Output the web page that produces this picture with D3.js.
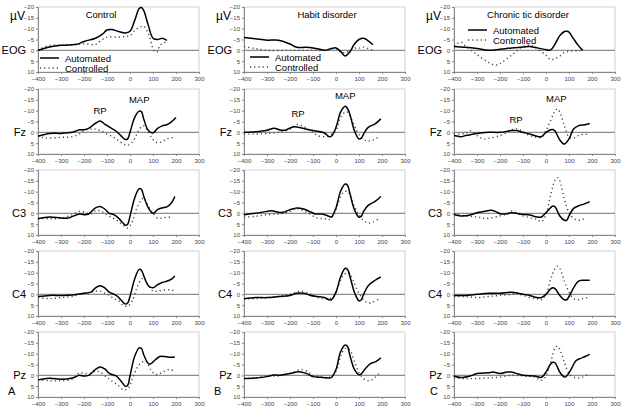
<!DOCTYPE html>
<html>
<head>
<meta charset="utf-8">
<script src="https://cdn.jsdelivr.net/npm/d3@7"></script>
<style>
  body { margin: 0; background: #fff; }
  svg { display: block; font-family: "Liberation Sans", Arial, sans-serif; }
</style>
</head>
<body>
<div id="chart"></div>
<script>
const w = 624;
const h = 412;

// column titles, row (channel) names, panel letters
const groups = ["Control", "Habit disorder", "Chronic tic disorder"];
const channels = ["EOG", "Fz", "C3", "C4", "Pz"];
const panelLetters = ["A", "B", "C"];
const seriesNames = ["Automated", "Controlled"];
const xTicks = [-400, -300, -200, -100, 0, 100, 200, 300];
const yTicks = [-20, -15, -10, -5, 0, 5, 10];

// [ms, µV] (negative is up)
const eogControlAuto = [[-400,0],[-350,-1.5],[-300,-2.3],[-250,-2.6],[-230,-2.8],[-200,-4.1],[-150,-5.6],[-120,-7.5],[-100,-9.4],[-80,-9.6],[-50,-8.7],[-20,-8],[0,-8.8],[20,-13.7],[40,-19.3],[50,-19.8],[60,-18.3],[80,-11.4],[100,-5.6],[120,-5],[140,-5.6],[160,-4.6]];
const eogControlCtrl = [[-400,0],[-350,-2.3],[-300,-2.3],[-250,-2.6],[-200,-3],[-150,-2.7],[-130,-4.1],[-100,-6.1],[-50,-6.1],[-20,-6.4],[0,-6.8],[20,-9.1],[40,-10.6],[60,-11.1],[80,-7.6],[100,-0.8],[110,0.8],[120,0.5],[130,-2.3],[160,-4]];
const eogHabitAuto = [[-400,-5.9],[-350,-5.3],[-300,-4.7],[-250,-4.7],[-200,-2.9],[-170,-1.4],[-130,-1.4],[-100,-1.1],[-70,-0.5],[-50,0],[-20,-0.8],[0,-1.1],[20,0.5],[40,2.6],[60,0.8],[80,-2.9],[100,-5],[120,-5.6],[140,-4.4],[160,-2.6]];
const eogHabitCtrl = [[-400,-1.7],[-350,-0.8],[-300,0],[-200,0],[-100,0],[-50,0],[0,-0.8],[20,0.8],[40,1],[60,0],[80,-1],[100,-1],[120,-1.5],[140,-0.8],[160,0]];
const eogTicAuto = [[-400,-1.8],[-350,-1.4],[-300,-0.8],[-250,0],[-200,-0.5],[-150,-1.1],[-100,-1.5],[-70,-1.8],[-50,-1.4],[0,-0.3],[20,-0.2],[40,-3],[60,-6.8],[80,-8.7],[90,-8.8],[100,-8.4],[120,-5.3],[140,-2.3],[160,0]];
const eogTicCtrl = [[-400,-2],[-370,-3.8],[-350,-2],[-300,2],[-250,5.6],[-220,6.8],[-200,6.1],[-150,2.3],[-100,-1.8],[-70,-2.3],[-50,-1.5],[0,2.3],[20,4.3],[40,3.8],[60,2.6],[80,1],[100,0.5],[120,0.3],[160,0]];

const fzControlAuto = [[-400,1.8],[-350,0.5],[-300,0.5],[-250,0],[-220,-1.2],[-200,-1.2],[-180,-1.8],[-150,-4.2],[-130,-5.2],[-110,-3.8],[-80,-1.8],[-60,-0.5],[-40,1.5],[-20,3.3],[-10,3],[0,0],[20,-6.8],[40,-9.8],[50,-9.5],[60,-6],[80,-0.8],[100,0.3],[120,-1.8],[140,-3],[160,-3.5],[180,-4.8],[200,-6.8]];
const fzControlCtrl = [[-400,1.5],[-370,2.6],[-300,2.3],[-250,2],[-220,0.8],[-200,-0.8],[-170,-1.5],[-150,-1.5],[-120,-0.3],[-100,0.8],[-70,2.3],[-50,3.8],[-30,5.3],[-10,6],[10,4.5],[30,0.8],[50,-2.7],[60,-3],[80,0],[100,3.3],[120,4.8],[140,4.2],[160,3],[200,2.3]];
const fzHabitAuto = [[-400,0],[-350,-0.3],[-300,-1],[-270,-1.9],[-240,-1],[-220,-1],[-200,-2],[-180,-2.6],[-150,-2],[-120,-1.2],[-80,-0.5],[-50,0.3],[-30,2],[-20,1.8],[0,-2.3],[20,-9.3],[40,-12],[50,-11],[60,-8.5],[80,-0.8],[100,3.1],[110,2.7],[120,0.8],[140,-2.3],[170,-3.9],[195,-6.2]];
const fzHabitCtrl = [[-400,0.8],[-350,0.8],[-300,0.5],[-250,0],[-200,-1.5],[-170,-3.6],[-150,-3.1],[-120,-1.5],[-100,0],[-80,1.5],[-50,2],[-30,1.5],[0,-0.8],[20,-7],[40,-9.3],[50,-9.3],[70,-5.4],[90,-0.8],[110,2.3],[130,3.9],[150,3.9],[170,3.1],[190,1.5]];
const fzTicAuto = [[-400,1.5],[-370,2],[-350,1.5],[-300,0.5],[-250,0],[-200,0],[-150,-0.8],[-130,-0.8],[-100,0],[-70,0.8],[-40,1.8],[-20,2],[0,0],[20,-1.2],[30,-1.3],[40,-0.5],[60,3.5],[80,5.4],[100,3],[120,-1.5],[140,-3],[170,-3.5],[190,-4.1]];
const fzTicCtrl = [[-400,0.8],[-350,0.5],[-330,-0.8],[-300,1.5],[-270,3.1],[-250,2.8],[-200,1.5],[-170,0],[-150,-1.2],[-120,-1.5],[-100,0],[-70,1.5],[-40,2.3],[-20,2.3],[0,-0.8],[20,-5.4],[40,-10],[50,-10.8],[60,-9.3],[80,-3],[100,2.3],[120,2.6],[140,1.5],[170,0.8],[180,1]];

const c3ControlAuto = [[-400,2.5],[-350,1.7],[-300,2.2],[-270,2.2],[-250,1.4],[-220,0.3],[-200,0.6],[-180,0.3],[-150,-2.5],[-130,-3.2],[-110,-2],[-90,0],[-70,0.6],[-50,2.2],[-30,4.5],[-20,5.5],[-10,5],[0,1.4],[20,-7],[40,-11.4],[50,-11],[60,-7.8],[80,-2.5],[100,0],[120,-1.7],[140,-2.5],[160,-3],[180,-4.8],[195,-7.8]];
const c3ControlCtrl = [[-400,2.2],[-350,2.5],[-300,2.2],[-250,0.6],[-220,-0.9],[-200,-0.6],[-170,0.3],[-150,-1.2],[-130,-1.2],[-110,0],[-90,1.4],[-70,2.5],[-50,3.7],[-30,5.5],[-10,6.8],[10,3.7],[30,-2.5],[50,-6.3],[60,-7],[80,-3.2],[100,0],[120,2.2],[140,2.2],[160,1.8],[180,1.8]];
const c3HabitAuto = [[-400,0.6],[-350,0],[-300,-0.9],[-280,-1.2],[-250,-0.5],[-230,-0.5],[-200,-1.7],[-170,-2.5],[-140,-2],[-110,-0.6],[-90,0.3],[-60,0.3],[-30,1.4],[-20,1.7],[0,-2.5],[20,-10.2],[40,-13.5],[50,-13],[60,-9.4],[80,-1.7],[100,1.8],[110,1.4],[120,-0.9],[140,-3.7],[170,-5.5],[195,-7.8]];
const c3HabitCtrl = [[-400,1.8],[-350,1.4],[-300,0.6],[-250,0.3],[-200,-0.9],[-170,-2.2],[-140,-1.2],[-110,0.6],[-80,2.2],[-50,2.5],[-30,2.9],[-10,0.6],[10,-4.8],[30,-9.4],[50,-10.2],[60,-8.6],[80,-3.2],[100,0.6],[120,3.4],[140,4.5],[160,4],[190,2.2]];
const c3TicAuto = [[-400,0.5],[-370,1.2],[-330,0.8],[-300,-0.3],[-270,-0.8],[-240,-1.4],[-220,-0.9],[-200,0.2],[-170,0.2],[-150,-0.3],[-120,0.2],[-100,0.5],[-70,0.8],[-40,1.7],[-20,1.7],[0,-0.3],[20,-2.6],[30,-3.4],[40,-2.9],[60,1.2],[80,3.2],[90,3.2],[100,1.2],[120,-2.3],[140,-3.4],[170,-4.5],[190,-5.4]];
const c3TicCtrl = [[-400,0.2],[-350,1.2],[-300,1.7],[-270,2.3],[-250,2.3],[-200,1.2],[-170,0.2],[-150,-1.1],[-130,-0.3],[-100,1.2],[-70,2],[-40,2.8],[-20,3.8],[0,0.5],[20,-8.5],[40,-15.5],[50,-16.5],[60,-15],[80,-6.5],[100,-0.3],[120,2.3],[140,3.2],[160,2.8],[170,2.2]];

const c4ControlAuto = [[-400,1],[-350,0.5],[-300,0.5],[-250,0.3],[-200,-0.5],[-170,-1],[-150,-3],[-130,-4],[-110,-3],[-90,-1],[-60,0.5],[-40,2.5],[-20,4.5],[-10,4],[0,1],[20,-7],[40,-11.5],[50,-11],[60,-8.5],[80,-4],[100,-3],[120,-4.5],[140,-5.5],[160,-6],[180,-7],[195,-8.5]];
const c4ControlCtrl = [[-400,1.5],[-350,2],[-300,1.5],[-250,1],[-220,0],[-200,-0.5],[-170,-1],[-150,-1.5],[-130,-1.5],[-110,-0.5],[-90,0.5],[-70,2],[-50,3],[-30,5],[-10,5.5],[10,3],[30,-3],[50,-7],[60,-7.5],[80,-4],[100,-1.5],[120,-1.5],[150,-2],[180,-2],[195,-1.5]];
const c4HabitAuto = [[-400,2],[-350,1.5],[-300,1.5],[-250,1],[-200,0.5],[-170,-0.5],[-140,-0.5],[-110,0.5],[-80,1],[-50,1.5],[-30,2.5],[-20,2.5],[0,-1],[20,-8],[40,-12],[50,-11.5],[60,-8.5],[80,-1],[100,3],[110,2.5],[120,0],[140,-4],[170,-6.5],[195,-8]];
const c4HabitCtrl = [[-400,2],[-350,2],[-300,1.5],[-250,1],[-200,0],[-170,-1],[-150,-1.5],[-120,-0.5],[-100,0.5],[-80,1.5],[-50,2],[-30,2],[-10,1],[10,-4],[30,-8.5],[50,-10],[60,-9.5],[80,-5],[100,-0.5],[120,2.5],[140,4],[160,3.5],[190,2]];
const c4TicAuto = [[-400,0.5],[-350,0.5],[-300,0],[-250,-0.5],[-200,-0.5],[-150,-1],[-120,-0.5],[-100,0],[-70,0.5],[-40,1.5],[-20,1.5],[0,0],[20,-2.5],[30,-3],[40,-2.5],[60,0.5],[80,2.5],[90,2.5],[100,1],[120,-3],[140,-6],[160,-6.5],[190,-6.5]];
const c4TicCtrl = [[-400,1],[-350,1],[-300,1.5],[-250,1],[-200,0.5],[-150,0],[-130,-0.5],[-100,0.5],[-70,1.5],[-40,2],[-20,2.5],[0,0],[20,-7],[40,-12],[50,-13],[60,-12],[80,-6],[100,-1],[120,2],[140,2.5],[160,2],[180,1.5]];

const pzControlAuto = [[-400,2.1],[-350,1.4],[-300,1.8],[-250,1.2],[-220,0],[-200,0.3],[-180,0],[-150,-2.7],[-130,-3.9],[-110,-3],[-90,-0.9],[-60,0.3],[-40,2.5],[-20,5.1],[-10,4.6],[0,0.3],[20,-8.7],[40,-12.7],[50,-12.4],[60,-9.4],[80,-5.4],[90,-5.3],[110,-7.2],[130,-8.7],[150,-8.7],[170,-8.4],[195,-8.5]];
const pzControlCtrl = [[-400,2.1],[-350,2.5],[-300,2.5],[-250,1.8],[-220,-1.2],[-200,-0.9],[-170,-0.9],[-150,-1.9],[-130,-1.5],[-100,1],[-80,2.5],[-50,4.8],[-30,6.6],[-10,6.3],[10,1.8],[30,-3.4],[50,-6],[70,-6.4],[90,-2.7],[110,-0.4],[130,-0.9],[150,-1.9],[170,-2.7],[195,-1.9]];
const pzHabitAuto = [[-400,1.5],[-350,1.2],[-300,0.6],[-270,-0.2],[-250,0],[-200,-0.8],[-160,-1.6],[-130,-0.9],[-100,0.6],[-70,0.9],[-30,1.2],[-20,1],[0,-2.7],[20,-10.9],[40,-14],[50,-13.3],[60,-9.4],[80,-2.7],[100,-0.3],[110,-0.7],[130,-3.4],[150,-5.4],[175,-6.4],[195,-8.1]];
const pzHabitCtrl = [[-400,1.4],[-350,1.2],[-300,0.3],[-250,0.3],[-200,-0.9],[-170,-2.2],[-150,-2.7],[-120,-1.5],[-100,0],[-70,0.7],[-30,1],[0,-1.9],[20,-8.7],[40,-12.4],[60,-11.7],[80,-6.4],[100,-1.2],[120,1.5],[140,2.5],[160,1.8],[190,-1.2]];
const pzTicAuto = [[-400,0.3],[-370,1],[-330,0.3],[-300,-0.8],[-250,-1.2],[-230,-1.5],[-200,-0.8],[-170,-1.5],[-150,-1.5],[-120,-0.6],[-100,0],[-50,0.3],[-20,0.9],[0,-1.5],[20,-5.2],[30,-6],[40,-5.7],[60,-1.5],[80,0.8],[90,0.3],[110,-3],[130,-6.7],[150,-7.8],[170,-8.7],[190,-9.7]];
const pzTicCtrl = [[-400,1.2],[-350,1.5],[-300,1.5],[-250,1.2],[-200,0.8],[-150,0],[-100,0.3],[-50,0.8],[-20,2.3],[0,0.3],[20,-6],[40,-12.7],[50,-13.5],[60,-12],[80,-6],[100,-0.8],[120,0.8],[140,1.2],[160,0.8],[180,-0.3]];

// rows x columns of [automated, controlled]
const panels = [
  [[eogControlAuto, eogControlCtrl], [eogHabitAuto, eogHabitCtrl], [eogTicAuto, eogTicCtrl]],
  [[fzControlAuto, fzControlCtrl], [fzHabitAuto, fzHabitCtrl], [fzTicAuto, fzTicCtrl]],
  [[c3ControlAuto, c3ControlCtrl], [c3HabitAuto, c3HabitCtrl], [c3TicAuto, c3TicCtrl]],
  [[c4ControlAuto, c4ControlCtrl], [c4HabitAuto, c4HabitCtrl], [c4TicAuto, c4TicCtrl]],
  [[pzControlAuto, pzControlCtrl], [pzHabitAuto, pzHabitCtrl], [pzTicAuto, pzTicCtrl]]
];

// RP / MAP labels on the Fz row: [column, text, ms, µV]
const fzNotes = [
  [0, "RP", -130, -8.5], [0, "MAP", 40, -13.5],
  [1, "RP", -165, -7], [1, "MAP", 40, -15.5],
  [2, "RP", -130, -4.5], [2, "MAP", 45, -14]
];

// layout
const colLeft = [38, 244, 454];
const rowTop = [7, 89, 170, 251, 332];
const plotW = 161;
const plotH = 65;
const titleOffset = [63, 83, 74];
const letterX = [8, 214, 430];

const svg = d3.select("#chart").append("svg")
  .attr("width", w)
  .attr("height", h);

channels.forEach((ch, r) => {
  groups.forEach((grp, c) => {
    const x0 = colLeft[c], y0 = rowTop[r];
    const x = d3.scaleLinear().domain([-400, 300]).range([x0, x0 + plotW]);
    const y = d3.scaleLinear().domain([-20, 10]).range([y0, y0 + plotH]);
    const g = svg.append("g");

    // plot frame
    g.append("rect")
      .attr("x", x0).attr("y", y0)
      .attr("width", plotW).attr("height", plotH)
      .attr("fill", "none").attr("stroke", "#cfcfcf");

    // axes
    const ya = g.append("g")
      .attr("transform", `translate(${x0},0)`)
      .call(d3.axisLeft(y).tickValues(yTicks).tickSize(2).tickPadding(2));
    const xa = g.append("g")
      .attr("transform", `translate(0,${y0 + plotH})`)
      .call(d3.axisBottom(x).tickValues(xTicks).tickSize(2).tickPadding(3));
    [ya, xa].forEach(a => {
      a.select(".domain").attr("stroke", "#888");
      a.selectAll(".tick line").attr("stroke", "#888");
      a.selectAll(".tick text")
        .attr("fill", "#444")
        .style("font-size", "6px")
        .style("font-family", "'Liberation Sans', Arial, sans-serif");
    });

    // zero line
    g.append("line")
      .attr("x1", x0).attr("x2", x0 + plotW)
      .attr("y1", y(0)).attr("y2", y(0))
      .attr("stroke", "#8c8c8c").attr("stroke-width", 1.2);

    const line = d3.line()
      .x(d => x(d[0]))
      .y(d => y(d[1]))
      .curve(d3.curveCatmullRom.alpha(0.5));

    const [auto, ctrl] = panels[r][c];
    g.append("path").datum(ctrl)
      .attr("d", line)
      .attr("fill", "none")
      .attr("stroke", "#444")
      .attr("stroke-width", 1.4)
      .attr("stroke-dasharray", "1.2,3");
    g.append("path").datum(auto)
      .attr("d", line)
      .attr("fill", "none")
      .attr("stroke", "#000")
      .attr("stroke-width", 1.5);

    // channel name
    g.append("text")
      .attr("x", x0 - 12).attr("y", y(0) + 4)
      .attr("text-anchor", "end")
      .style("font-size", "11px")
      .text(ch);

    if (r === 0) {
      g.append("text")
        .attr("x", x0 - 13).attr("y", y0 + 13)
        .attr("text-anchor", "end")
        .style("font-size", "12px")
        .text("µV");
      g.append("text")
        .attr("x", x0 + titleOffset[c]).attr("y", y0 + 11)
        .attr("text-anchor", "middle")
        .style("font-size", "9.5px")
        .text(grp);
    }

    if (r === 1) {
      fzNotes.filter(n => n[0] === c).forEach(n => {
        g.append("text")
          .attr("x", x(n[2])).attr("y", y(n[3]))
          .attr("text-anchor", "middle")
          .style("font-size", "9.5px")
          .text(n[1]);
      });
    }

    if (r === channels.length - 1) {
      g.append("text")
        .attr("x", letterX[c]).attr("y", y0 + plotH - 2)
        .style("font-size", "11px")
        .text(panelLetters[c]);
    }
  });
});

// legends in the EOG row: [column, line x, first row y]
const legendPos = [[0, 40, 58], [1, 250, 57], [2, 468, 30]];
legendPos.forEach(([c, lx, ly]) => {
  seriesNames.forEach((name, i) => {
    const yy = ly + i * 10;
    svg.append("line")
      .attr("x1", lx).attr("x2", lx + 19)
      .attr("y1", yy).attr("y2", yy)
      .attr("stroke", i === 0 ? "#000" : "#444")
      .attr("stroke-width", i === 0 ? 1.5 : 1.4)
      .attr("stroke-dasharray", i === 0 ? null : "1.2,3");
    svg.append("text")
      .attr("x", lx + 25).attr("y", yy + 3.5)
      .style("font-size", "9.5px")
      .text(name);
  });
});
</script>
</body>
</html>
